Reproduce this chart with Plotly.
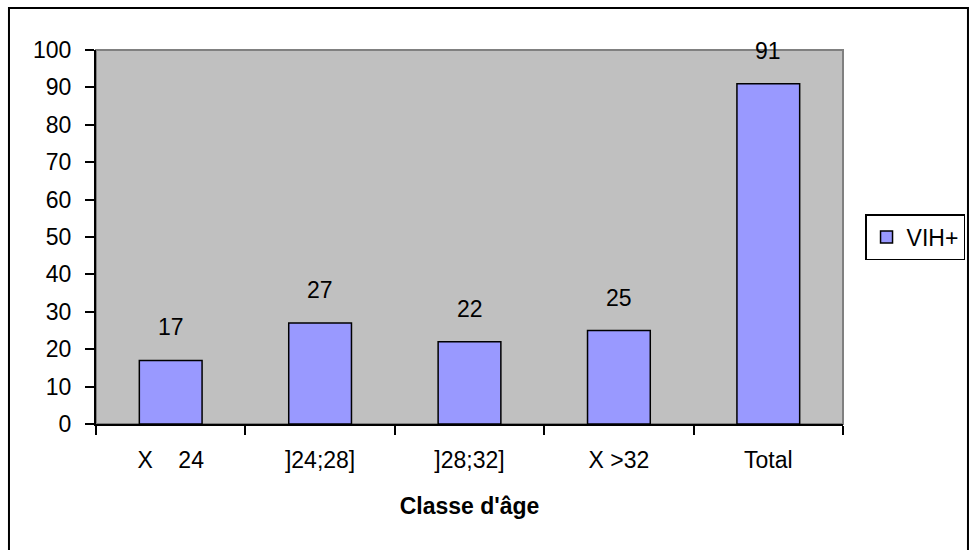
import plotly.graph_objects as go

# Age classes and HIV-positive counts
categories = ["X    24", "]24;28]", "]28;32]", "X >32", "Total"]
vih_pos = [17, 27, 22, 25, 91]
y_ticks = [0, 10, 20, 30, 40, 50, 60, 70, 80, 90, 100]

FONT = "Liberation Sans, Arial, sans-serif"
FS = 23

fig = go.Figure()
fig.add_trace(go.Bar(
    x=categories,
    y=vih_pos,
    name="VIH+",
    marker=dict(color="#9999FF", line=dict(color="black", width=1.5)),
))

# value labels above each bar
for cat, val in zip(categories, vih_pos):
    fig.add_annotation(x=cat, y=val, text=str(val), showarrow=False,
                       yshift=33, font=dict(family=FONT, size=FS, color="black"))

# outer frame around the whole chart
fig.add_shape(type="rect", xref="paper", yref="paper",
              x0=-0.1165, x1=1.1673, y0=-0.345, y1=1.1123,
              line=dict(color="black", width=2), layer="above")
# grey plot frame (top and right)
fig.add_shape(type="rect", xref="paper", yref="paper",
              x0=0, x1=1, y0=0, y1=1,
              line=dict(color="#808080", width=2), layer="below")

fig.update_layout(
    width=973, height=550,
    margin=dict(l=96, r=130, t=50, b=126, autoexpand=False),
    paper_bgcolor="white",
    plot_bgcolor="#C0C0C0",
    bargap=0.58,
    font=dict(family=FONT, size=FS, color="black"),
    showlegend=True,
    legend=dict(x=1.0295, y=0.5, xanchor="left", yanchor="middle",
                bordercolor="black", borderwidth=1.5, bgcolor="white",
                font=dict(family=FONT, size=FS),
                itemwidth=30, tracegroupgap=0),
    xaxis=dict(
        title=dict(text="<b>Classe d'âge</b>", font=dict(family=FONT, size=FS), standoff=26),
        showline=True, linecolor="black", linewidth=2,
        ticks="outside", ticklen=9, tickwidth=1.5, tickcolor="black",
        tickson="boundaries", showgrid=False, zeroline=False,
        tickfont=dict(family=FONT, size=FS), ticklabelstandoff=14,
    ),
    yaxis=dict(
        range=[0, 100], tickvals=y_ticks,
        showline=True, linecolor="black", linewidth=2,
        ticks="outside", ticklen=9, tickwidth=1.5, tickcolor="black",
        showgrid=False, zeroline=False,
        tickfont=dict(family=FONT, size=FS), ticklabelstandoff=9,
    ),
)

fig.write_html("out.html")
